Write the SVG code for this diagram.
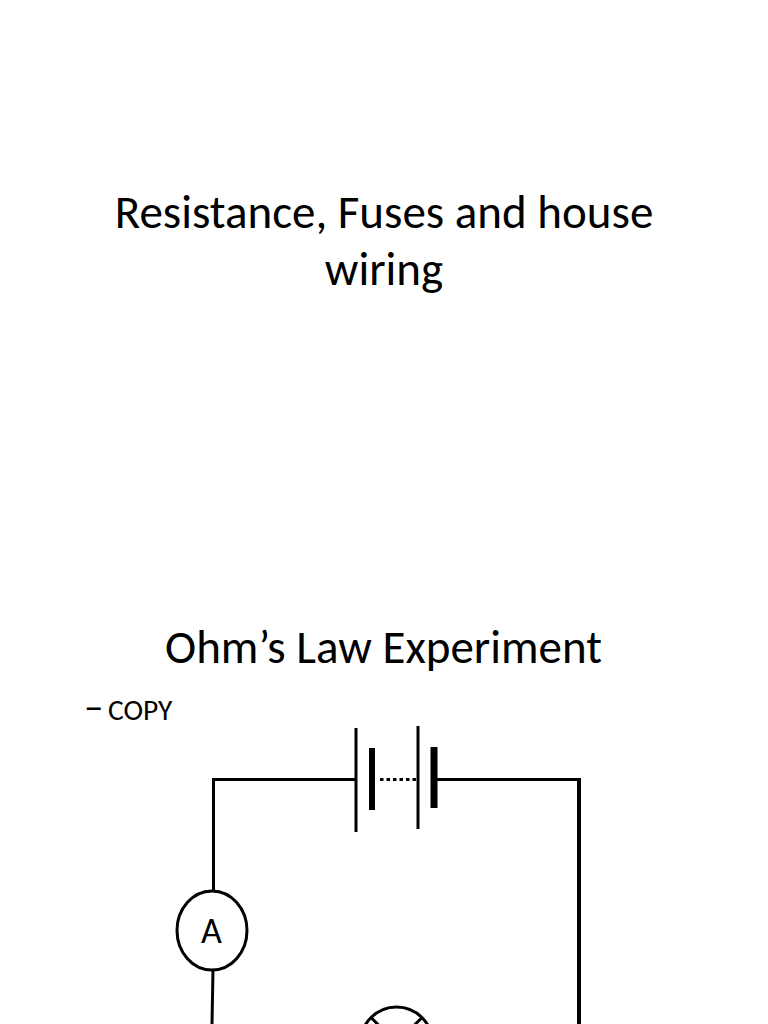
<svg xmlns="http://www.w3.org/2000/svg" width="768" height="1024" viewBox="0 0 768 1024">
<style>
text{font-family:"Carlito","Lato","Liberation Sans",sans-serif;fill:#000}
.t{font-size:47px;text-anchor:middle}
.w{fill:none;stroke:#000;stroke-width:3}
</style>
<rect width="768" height="1024" fill="#fff"/>
<text class="t" x="384" y="228">Resistance, Fuses and house</text>
<text class="t" x="384" y="285">wiring</text>
<text class="t" x="383.500" y="662.500">Ohm’s Law Experiment</text>
<text x="84" y="720" font-size="39">–</text>
<text x="108" y="720" font-size="29.5">COPY</text>
<g id="connectors">
<path class="w" d="M356 779.500H213.500V891M213 970L212 1024M437 779.500H579"/>
<path d="M579 778V1024" fill="none" stroke="#000" stroke-width="4"/>
<path d="M380 779.500H416" fill="none" stroke="#000" stroke-width="3" stroke-dasharray="3.500 3"/>
</g>
<g id="battery">
<path class="w" d="M356 728V832M418 726V829"/>
<path d="M372 748V810" stroke="#000" stroke-width="6" fill="none"/>
<path d="M434 747V808" stroke="#000" stroke-width="7" fill="none"/>
</g>
<g id="ammeter">
<ellipse class="w" cx="212" cy="930.500" rx="35" ry="39.500" fill="#fff"/>
<text x="211.500" y="943" font-size="36" text-anchor="middle">A</text>
</g>
<g id="lamp">
<circle class="w" cx="396.500" cy="1043" r="36"/>
<path class="w" d="M371 1017.500L422 1068.500M422 1017.500L371 1068.500"/>
</g>
</svg>
